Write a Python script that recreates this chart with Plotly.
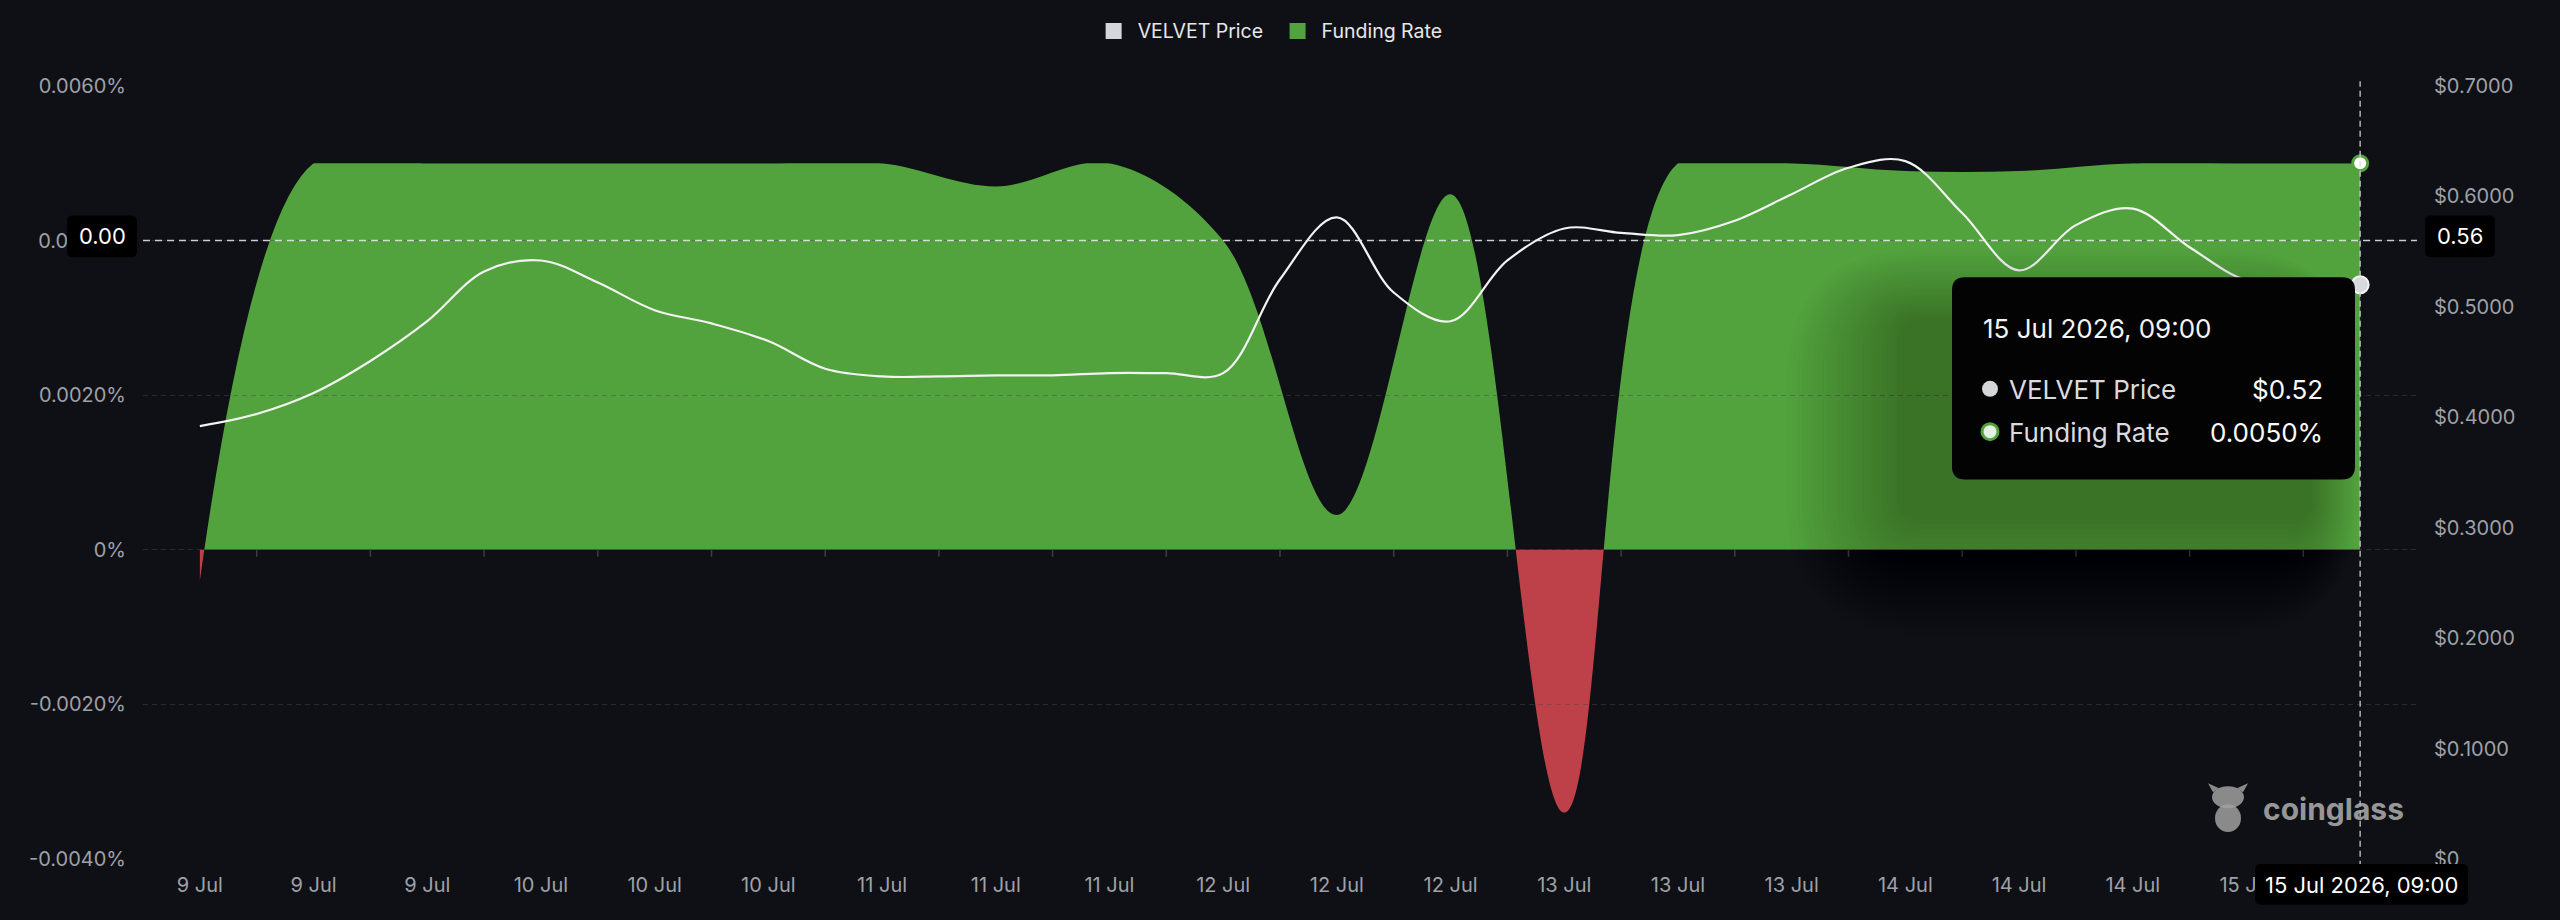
import pandas as pd
import plotly.graph_objects as go

# ---------------- data ----------------
funding_times = pd.date_range("2026-07-09 01:00", periods=20, freq="8h")
funding_rate = [-0.0004, 0.0050, 0.0050, 0.0050, 0.0050, 0.0050, 0.0050, 0.0047, 0.0050, 0.0040,
                0.00045, 0.0046, -0.0034, 0.0050, 0.0050, 0.0049, 0.0049, 0.0050, 0.0050, 0.0050]
tick_labels = ["9 Jul", "9 Jul", "9 Jul", "10 Jul", "10 Jul", "10 Jul", "11 Jul", "11 Jul", "11 Jul",
               "12 Jul", "12 Jul", "12 Jul", "13 Jul", "13 Jul", "13 Jul", "14 Jul", "14 Jul", "14 Jul",
               "15 Jul", "15 Jul"]

price_times = pd.date_range("2026-07-09 01:00", periods=39, freq="4h")
price = [0.392, 0.403, 0.422, 0.451, 0.487, 0.532, 0.542, 0.522, 0.497, 0.485,
         0.469, 0.444, 0.437, 0.437, 0.438, 0.438, 0.440, 0.440, 0.440, 0.525,
         0.581, 0.513, 0.487, 0.542, 0.571, 0.567, 0.565, 0.578, 0.602, 0.626,
         0.632, 0.585, 0.533, 0.574, 0.589, 0.554, 0.524, 0.521, 0.520]

left_tickvals = [-0.004, -0.002, 0.0, 0.002, 0.004, 0.006]
left_ticktext = ["-0.0040%", "-0.0020%", "0%", "0.0020%", "0.0040%", "0.0060%"]
right_tickvals = [0.0, 0.1, 0.2, 0.3, 0.4, 0.5, 0.6, 0.7]
right_ticktext = ["$0", "$0.1000", "$0.2000", "$0.3000", "$0.4000", "$0.5000", "$0.6000", "$0.7000"]

cross_price = 0.56
tooltip_title = "15 Jul 2026, 09:00"
tooltip_price = "$0.52"
tooltip_funding = "0.0050%"

# ---------------- style ----------------
BG = "#0f1015"
GREEN = "#52a23e"
RED = "#be4048"
FONT = "Inter"
TICK_COLOR = "#9ea1a7"
GRID = "rgba(70,74,84,0.45)"

W, H = 2560, 920
PL, PR, PT, PB = 143, 2417, 83, 859


def px(x):
    return (x - PL) / (PR - PL)


def py(y):
    return (PB - y) / (PB - PT)


def rrect(x0, y0, x1, y1, r):
    pts = [
        ("M", [(x0 + r, y0)]), ("L", [(x1 - r, y0)]), ("Q", [(x1, y0), (x1, y0 + r)]),
        ("L", [(x1, y1 - r)]), ("Q", [(x1, y1), (x1 - r, y1)]), ("L", [(x0 + r, y1)]),
        ("Q", [(x0, y1), (x0, y1 - r)]), ("L", [(x0, y0 + r)]), ("Q", [(x0, y0), (x0 + r, y0)]),
    ]
    s = ""
    for cmd, ps in pts:
        s += cmd + " " + " ".join(f"{px(a):.6f},{py(b):.6f}" for a, b in ps) + " "
    return s + "Z"


fig = go.Figure()

# funding rate: positive part (clipped to top subplot), negative part (bottom subplot)
fig.add_trace(go.Scatter(x=funding_times, y=funding_rate, xaxis="x", yaxis="y", mode="lines",
                         line=dict(width=0, shape="spline", smoothing=1.0), fill="tozeroy",
                         fillcolor=GREEN, showlegend=False, hoverinfo="skip"))
fig.add_trace(go.Scatter(x=funding_times, y=funding_rate, xaxis="x", yaxis="y2", mode="lines",
                         line=dict(width=0, shape="spline", smoothing=1.0), fill="tozeroy",
                         fillcolor=RED, showlegend=False, hoverinfo="skip"))

# legend entries
fig.add_trace(go.Scatter(x=[None], y=[None], xaxis="x", yaxis="y3", mode="markers",
                         name="VELVET Price&nbsp;",
                         marker=dict(symbol="square", size=16, color="#d4d6da")))
fig.add_trace(go.Scatter(x=[None], y=[None], xaxis="x", yaxis="y3", mode="markers", name="Funding Rate",
                         marker=dict(symbol="square", size=16, color=GREEN)))

# price line
fig.add_trace(go.Scatter(x=price_times, y=price, xaxis="x", yaxis="y4", mode="lines",
                         line=dict(color="#f2f2f2", width=2.2, shape="spline", smoothing=1.0),
                         showlegend=False, hoverinfo="skip"))

# end markers
fig.add_trace(go.Scatter(x=[funding_times[-1]], y=[funding_rate[-1]], xaxis="x", yaxis="y3",
                         mode="markers", cliponaxis=False, showlegend=False, hoverinfo="skip",
                         marker=dict(size=15, color="#ffffff", line=dict(color=GREEN, width=3))))
fig.add_trace(go.Scatter(x=[price_times[-1]], y=[price[-1]], xaxis="x", yaxis="y4",
                         mode="markers", cliponaxis=False, showlegend=False, hoverinfo="skip",
                         marker=dict(size=17, color="#d9dadd", line=dict(color="#f4f4f4", width=2))))

shapes = []
# x-axis tick marks at category boundaries on the zero line
for t in funding_times[:-1]:
    b = t + pd.Timedelta(hours=4)
    shapes.append(dict(type="line", xref="x", yref="y3", ysizemode="pixel", yanchor=0,
                       x0=b, x1=b, y0=0, y1=-7, line=dict(color="#3a3d46", width=1.5), layer="above"))

# crosshair
shapes.append(dict(type="line", xref="paper", yref="y4", x0=0, x1=1, y0=cross_price, y1=cross_price,
                   line=dict(color="rgba(235,235,235,0.85)", width=1.5, dash="7px,5px"), layer="above"))
shapes.append(dict(type="line", xref="x", yref="paper", x0=funding_times[-1], x1=funding_times[-1],
                   y0=-0.01, y1=1.006, line=dict(color="rgba(215,215,215,0.8)", width=1.5, dash="6px,4px"),
                   layer="above"))

# tooltip soft shadow (offset down-left)
tx0, ty0, tx1, ty1 = 1952, 275, 2355, 478
for i in range(24, 0, -1):
    e = 5 * i
    shapes.append(dict(type="path", xref="paper", yref="paper", layer="above",
                       path=rrect(tx0 - e - 45, ty0 - 0.6 * e + 45, tx1 + 0.4 * e - 45, ty1 + e + 35, 13 + e),
                       fillcolor="rgba(0,0,0,0.012)", line=dict(width=0)))
# tooltip box
shapes.append(dict(type="path", xref="paper", yref="paper", layer="above", path=rrect(tx0, ty0, tx1, ty1, 13),
                   fillcolor="#030304", line=dict(width=0)))
# tooltip dots
for (cy, fill, ln, lw) in [(387, "#d4d6da", "#d4d6da", 0), (430, "#e6efe3", GREEN, 3)]:
    shapes.append(dict(type="circle", xref="paper", yref="paper", layer="above",
                       x0=px(1990 - 8), x1=px(1990 + 8), y0=py(cy + 8), y1=py(cy - 8),
                       fillcolor=fill, line=dict(color=ln, width=lw)))

# crosshair label boxes
shapes.append(dict(type="path", xref="paper", yref="paper", layer="above", path=rrect(67, 213, 137, 255, 6),
                   fillcolor="#000000", line=dict(width=0)))
shapes.append(dict(type="path", xref="paper", yref="paper", layer="above", path=rrect(2425, 213, 2495, 255, 6),
                   fillcolor="#000000", line=dict(width=0)))
shapes.append(dict(type="path", xref="paper", yref="paper", layer="above", path=rrect(2255, 864, 2468, 905, 6),
                   fillcolor="#000000", line=dict(width=0)))

# watermark icon
WM = "rgba(160,160,160,0.85)"
shapes.append(dict(type="circle", xref="paper", yref="paper", layer="above",
                   x0=px(2212), x1=px(2244), y0=py(808), y1=py(786), fillcolor=WM, line=dict(width=0)))
shapes.append(dict(type="circle", xref="paper", yref="paper", layer="above",
                   x0=px(2215), x1=px(2241), y0=py(832), y1=py(804), fillcolor=WM, line=dict(width=0)))
shapes.append(dict(type="path", xref="paper", yref="paper", layer="above",
                   path=f"M {px(2213)},{py(792)} L {px(2208)},{py(783)} L {px(2219)},{py(788)} Z "
                        f"M {px(2243)},{py(792)} L {px(2248)},{py(783)} L {px(2237)},{py(788)} Z",
                   fillcolor=WM, line=dict(width=0)))

annotations = [
    dict(xref="paper", yref="paper", x=px(102), y=py(234), text="0.00", showarrow=False,
         font=dict(family=FONT, size=22, color="#ffffff"), xanchor="center", yanchor="middle"),
    dict(xref="paper", yref="paper", x=px(2460), y=py(234), text=f"{cross_price:.2f}", showarrow=False,
         font=dict(family=FONT, size=22, color="#ffffff"), xanchor="center", yanchor="middle"),
    dict(xref="paper", yref="paper", x=px(2361), y=py(885), text=tooltip_title, showarrow=False,
         font=dict(family=FONT, size=22, color="#ffffff"), xanchor="center", yanchor="middle"),
    dict(xref="paper", yref="paper", x=px(1981), y=py(326), text=tooltip_title, showarrow=False,
         font=dict(family=FONT, size=26, color="#f4f4f4"), xanchor="left", yanchor="middle"),
    dict(xref="paper", yref="paper", x=px(2007), y=py(388), text="VELVET Price", showarrow=False,
         font=dict(family=FONT, size=26, color="#d9dbdf"), xanchor="left", yanchor="middle"),
    dict(xref="paper", yref="paper", x=px(2325), y=py(388), text=tooltip_price, showarrow=False,
         font=dict(family=FONT, size=26, color="#fafafa"), xanchor="right", yanchor="middle"),
    dict(xref="paper", yref="paper", x=px(2007), y=py(431), text="Funding Rate", showarrow=False,
         font=dict(family=FONT, size=26, color="#d9dbdf"), xanchor="left", yanchor="middle"),
    dict(xref="paper", yref="paper", x=px(2325), y=py(431), text=tooltip_funding, showarrow=False,
         font=dict(family=FONT, size=26, color="#fafafa"), xanchor="right", yanchor="middle"),
    dict(xref="paper", yref="paper", x=px(2261), y=py(809), text="<b>coinglass</b>", showarrow=False,
         font=dict(family=FONT, size=30, color="rgba(170,170,170,0.9)"), xanchor="left", yanchor="middle"),
]

axis_font = dict(family=FONT, size=20, color=TICK_COLOR)
fig.update_layout(
    width=W, height=H,
    margin=dict(l=PL, r=W - PR, t=PT, b=H - PB, pad=0),
    paper_bgcolor=BG, plot_bgcolor="rgba(0,0,0,0)",
    font=dict(family=FONT, color=TICK_COLOR),
    hovermode=False,
    showlegend=True,
    legend=dict(orientation="h", x=0.495, xanchor="center", y=py(28), yanchor="middle",
                itemwidth=38,
                font=dict(family=FONT, size=19.5, color="#e6e7ea"), bgcolor="rgba(0,0,0,0)",
                itemclick=False, itemdoubleclick=False),
    xaxis=dict(type="date", anchor="y3",
               range=[funding_times[0] - pd.Timedelta(hours=4), funding_times[-1] + pd.Timedelta(hours=4)],
               tickmode="array", tickvals=list(funding_times[:-1]), ticktext=tick_labels[:-1],
               showgrid=False, zeroline=False, showline=False, ticks="", tickfont=axis_font,
               ticklabelstandoff=12, fixedrange=True),
    yaxis=dict(domain=[0.4, 0.9], range=[0, 0.005], visible=False, anchor="x", fixedrange=True),
    yaxis2=dict(domain=[0.0, 0.4], range=[-0.004, 0.0], visible=False, anchor="x", fixedrange=True),
    yaxis3=dict(domain=[0.0, 1.0], range=[-0.004, 0.006], anchor="x", tickmode="array",
                tickvals=left_tickvals, ticktext=left_ticktext, showgrid=True, gridcolor=GRID,
                griddash="5px,4px", gridwidth=1, zeroline=False, showline=False, ticks="",
                tickfont=axis_font, ticklabelstandoff=16, fixedrange=True),
    yaxis4=dict(overlaying="y3", side="right", anchor="x", range=[0, 0.7], tickmode="array",
                tickvals=right_tickvals, ticktext=right_ticktext, showgrid=False, zeroline=False,
                showline=False, ticks="", tickfont=axis_font, ticklabelstandoff=16, fixedrange=True),
    shapes=shapes,
    annotations=annotations,
)

fig.write_html("out.html", config={"displayModeBar": False})
